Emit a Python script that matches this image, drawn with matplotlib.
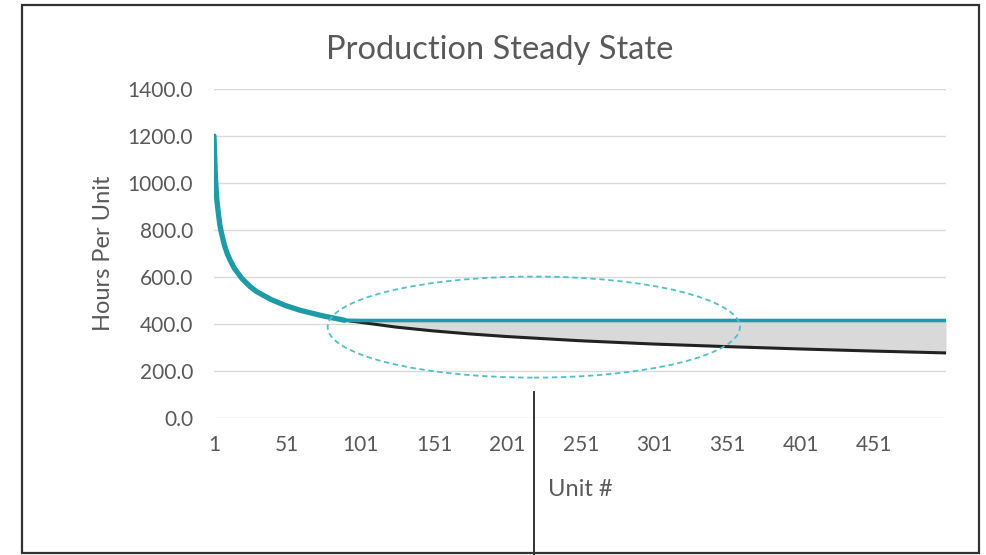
import numpy as np
import matplotlib
matplotlib.use("Agg")
import matplotlib.pyplot as plt
from matplotlib.patches import Ellipse, Rectangle

# Values
units = [1, 2, 3, 4, 5, 6, 8, 10, 12, 15, 20, 25, 30, 40, 50, 60, 75, 90,
         100, 125, 150, 175, 200, 250, 300, 350, 400, 450, 500]
hours = [1200, 1020, 925, 870, 822, 790, 738, 700, 672, 636, 594, 563, 538,
         504, 478, 458, 435, 416, 408, 387, 371, 358, 347, 329, 315, 304,
         294, 285, 277]
steady_state = 415
x_ticks = [1, 51, 101, 151, 201, 251, 301, 351, 401, 451]
y_ticks = [0, 200, 400, 600, 800, 1000, 1200, 1400]

units = np.array(units)
hours = np.array(hours, dtype=float)
capped = np.maximum(hours, steady_state)
learning = units <= 90

plt.rcParams['font.family'] = ['Lato', 'DejaVu Sans']
text_color = '#595959'
teal = '#1d9ba6'

fig = plt.figure(figsize=(9.87, 5.55), dpi=100)
ax = fig.add_axes([0.2168, 0.2468, 0.7417, 0.5928])

ax.fill_between(units, hours, capped, where=hours <= steady_state + 1,
                color='#d9d9d9', linewidth=0, zorder=1)
ax.plot(units, hours, color='#222222', linewidth=2.2, zorder=2)
ax.plot(units, capped, color=teal, linewidth=2.6, zorder=3)
ax.plot(units[learning], hours[learning], color=teal, linewidth=3.8,
        solid_capstyle='round', zorder=3)

# dashed ellipse highlighting the steady state region
ell = Ellipse((219, 387), 281, 430, fill=False, edgecolor='#4fc0ca',
              linestyle=(0, (3, 2)), linewidth=1.3, zorder=4, clip_on=False)
ax.add_patch(ell)

# callout line below the ellipse
ax.plot([219, 219], [110, -620], color='#222222', linewidth=1.3,
        clip_on=False, zorder=5)

ax.set_xlim(1, 500)
ax.set_ylim(0, 1400)
ax.set_xticks(x_ticks)
ax.set_xticklabels([str(t) for t in x_ticks])
ax.set_yticks(y_ticks)
ax.set_yticklabels([f"{t:.1f}" for t in y_ticks])
ax.tick_params(length=0, labelsize=15, labelcolor=text_color)
ax.tick_params(axis='x', pad=12)
ax.tick_params(axis='y', pad=15)
ax.grid(axis='y', color='#d9d9d9', linewidth=1)
ax.set_axisbelow(True)
for s in ax.spines.values():
    s.set_visible(False)

fig.text(104 / 987, 1 - 253 / 555, 'Hours Per Unit', rotation=90,
         ha='center', va='center', fontsize=17, color=text_color)
fig.text(580 / 987, 1 - 489 / 555, 'Unit #', ha='center', va='center',
         fontsize=17, color=text_color)
fig.text(500 / 987, 1 - 50 / 555, 'Production Steady State', ha='center',
         va='center', fontsize=23.5, color=text_color)

# outer border
fig.patches.append(Rectangle((22 / 987, 2 / 555), 957 / 987, 548 / 555,
                             transform=fig.transFigure, fill=False,
                             edgecolor='#333333', linewidth=1.6))

fig.savefig('out.png', dpi=100)
